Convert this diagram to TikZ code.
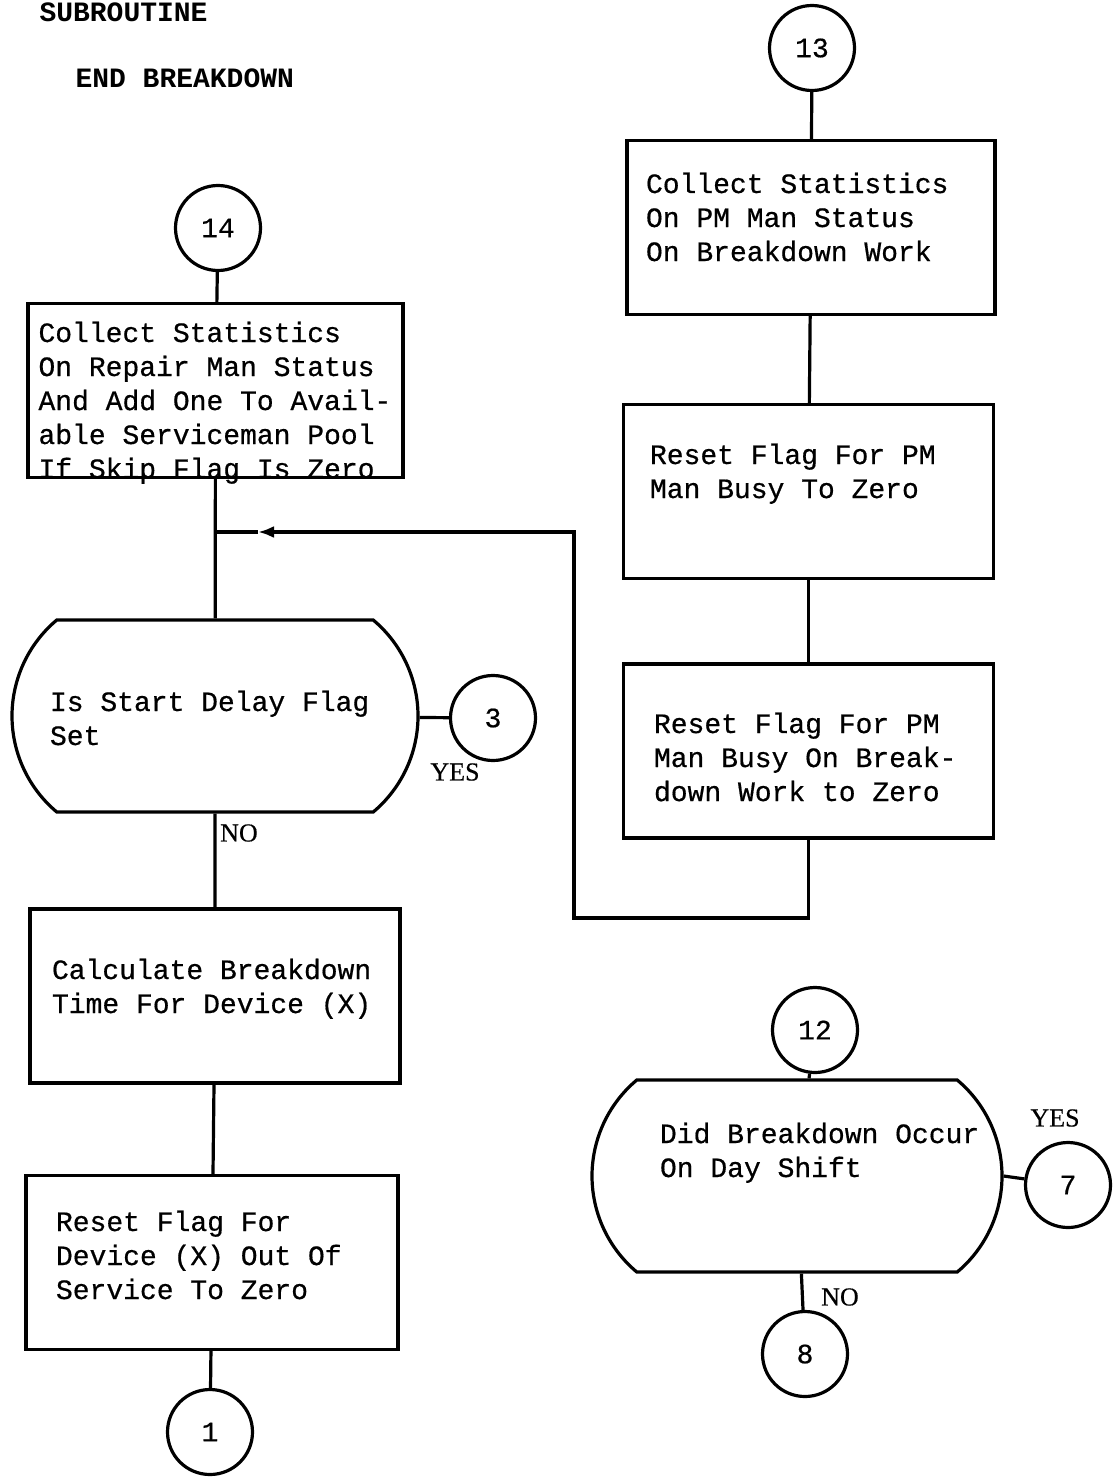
\documentclass[tikz,border=0pt]{standalone}
\usepackage{fontspec}
\setmonofont{Liberation Mono}[FakeBold=0.6]
\newfontfamily\labfont{Liberation Serif}[FakeBold=0.4]
\newfontfamily\headfont{Liberation Mono Bold}
\newcommand{\typew}{\fontsize{28}{34}\selectfont\ttfamily}
\usepackage{tikz}
\usetikzlibrary{arrows.meta, positioning, shapes.misc}

\begin{document}
\begin{tikzpicture}[
    x=1pt, y=-1pt,
    box/.style={rectangle, draw=black, line width=3.2pt, minimum width=370pt, minimum height=174pt, align=flush left, inner sep=3pt, font=\typew},
    dec/.style={rounded rectangle, rounded rectangle arc length=100, draw=black, line width=3.2pt, minimum width=412pt, minimum height=192pt, align=flush left, inner sep=3pt, font=\typew},
    conn/.style={circle, draw=black, line width=3.2pt, minimum size=85pt, inner sep=0pt, font=\typew},
    title/.style={anchor=west, font=\fontsize{28}{34}\selectfont\headfont},
    yn/.style={font=\fontsize{26}{30}\selectfont\labfont},
    flow/.style={line width=3.2pt}
]
    \useasboundingbox (0,0) rectangle (1116,1477);

    % Title
    \node[title] (sub) at (36,12) {SUBROUTINE};
    \node[title] (endb) at (72,78) {END BREAKDOWN};

    % Left column
    \node[conn] (c14) at (218,228) {14};
    \node[box, minimum width=375pt, text width=354pt, text height=1.5pt, text depth=98.5pt] (repair) at (215.5,390.5) {Collect Statistics\\On Repair Man Status\\And Add One To Avail-\\able Serviceman Pool\\If Skip Flag Is Zero};
    \node[dec, text width=330pt, text height=45pt, text depth=55pt] (delay) at (215,716) {Is Start Delay Flag\\Set};
    \node[conn] (c3) at (493,718) {3};
    \node[box, text width=326pt, text height=33pt, text depth=67pt] (calc) at (215,996) {Calculate Breakdown\\Time For Device (X)};
    \node[box, minimum width=372pt, text width=312pt, text height=18.5pt, text depth=81.5pt] (reset) at (212,1262.5) {Reset Flag For\\Device (X) Out Of\\Service To Zero};
    \node[conn] (c1) at (210,1432) {1};

    % Right column
    \node[conn] (c13) at (812,48) {13};
    \node[box, minimum width=368pt, text width=330pt, text height=15.5pt, text depth=84.5pt] (pmstat) at (811,227.5) {Collect Statistics\\On PM Man Status\\On Breakdown Work};
    \node[box, text width=317pt, text height=22.5pt, text depth=77.5pt] (pmbusy) at (808.5,491.5) {Reset Flag For PM\\Man Busy To Zero};
    \node[box, text width=309pt, text height=32pt, text depth=68pt] (pmbreak) at (808.5,751) {Reset Flag For PM\\Man Busy On Break-\\down Work to Zero};
    \node[conn] (c12) at (815,1030) {12};
    \node[dec, minimum width=416pt, text width=274pt, text height=17pt, text depth=83pt] (dayshift) at (797,1176) {\mbox{Did Breakdown Occur}\\On Day Shift};
    \node[conn] (c7) at (1068,1185) {7};
    \node[conn] (c8) at (805,1354) {8};

    % Labels
    \node[yn] (yes1) at (455,772) {YES};
    \node[yn] (no1) at (239,833) {NO};
    \node[yn] (yes2) at (1055,1118) {YES};
    \node[yn] (no2) at (840,1297) {NO};

    % Return path
    \coordinate (rtop) at (574,532);
    \coordinate (rbot) at (574,918);
    \coordinate (jn) at (repair.south |- rtop);
    \coordinate (tip) at (258,532);

    % Connections
    \draw[flow] (c14) -- (repair);
    \draw[flow] (repair) -- (delay);
    \draw[flow] (delay) -- (c3);
    \draw[flow] (delay) -- (calc);
    \draw[flow] (calc) -- (reset);
    \draw[flow] (reset) -- (c1);
    \draw[flow] (c13) -- (pmstat);
    \draw[flow] (pmstat) -- (pmbusy);
    \draw[flow] (pmbusy) -- (pmbreak);
    \draw[flow, -{Latex[length=16pt, width=12pt]}] (pmbreak.south) |- (rbot) -- (rtop) -- (tip);
    \draw[flow] (tip) -- (jn);
    \draw[flow] (c12) -- (dayshift);
    \draw[flow] (dayshift.east) -- (c7);
    \draw[flow] (dayshift) -- (c8);
\end{tikzpicture}
\end{document}
